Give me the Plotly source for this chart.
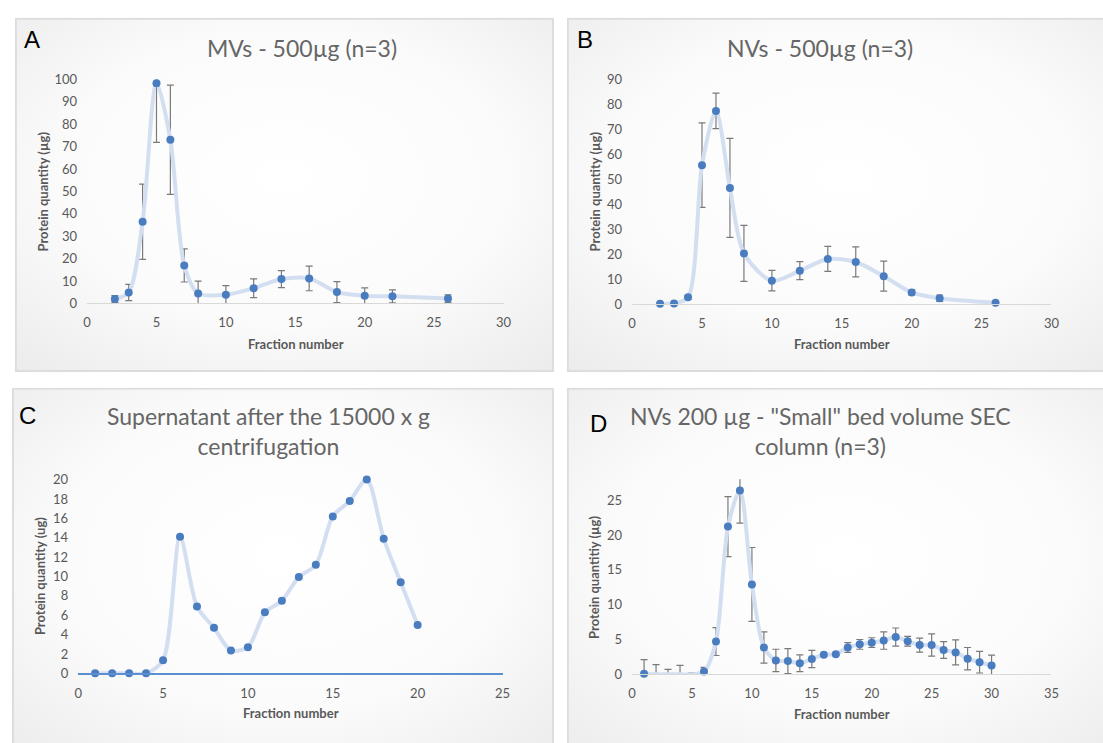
import base64
import plotly.graph_objects as go

W, H = 1103, 743

# ---------------- data ----------------
# Panel A: MVs - 500 µg (n=3)
a_x = [2, 3, 4, 5, 6, 7, 8, 10, 12, 14, 16, 18, 20, 22, 26]
a_y = [2.0, 4.9, 36.5, 98.3, 73.1, 17.0, 4.5, 3.9, 6.8, 10.9, 11.2, 5.1, 3.5, 3.2, 2.2]
a_err = [1.5, 3.6, 16.8, 26.4, 24.4, 7.4, 5.5, 4.1, 4.2, 3.8, 5.5, 4.7, 3.5, 2.9, 1.7]

# Panel B: NVs - 500 µg (n=3)
b_x = [2, 3, 4, 5, 6, 7, 8, 10, 12, 14, 16, 18, 20, 22, 26]
b_y = [0.3, 0.4, 2.9, 55.7, 77.4, 46.6, 20.4, 9.5, 13.5, 18.2, 17.0, 11.3, 4.8, 2.5, 0.7]
b_err = [0.2, 0.3, 0.8, 16.9, 7.1, 19.8, 11.2, 4.1, 3.6, 5.0, 6.0, 6.0, 1.0, 1.3, 0.4]

# Panel C: Supernatant after the 15000 x g centrifugation
c_x = list(range(1, 21))
c_y = [0, 0, 0, 0, 1.35, 14.1, 6.9, 4.7, 2.36, 2.7, 6.3, 7.5, 9.95, 11.2, 16.2, 17.8, 20.0, 13.9, 9.4, 5.0]

# Panel D: NVs 200 µg - "Small" bed volume SEC column (n=3)
d_x = list(range(1, 31))
d_y = [0.1, 0, 0, 0, 0, 0.4, 4.7, 21.2, 26.4, 12.9, 3.85, 2.0, 1.9, 1.6, 2.2,
       2.8, 2.9, 3.85, 4.3, 4.55, 4.85, 5.35, 4.75, 4.2, 4.2, 3.5, 3.15, 2.25, 1.74, 1.27]
d_err = [2.0, 1.4, 0.7, 1.3, 0.2, 0.6, 2.0, 4.3, 4.7, 5.3, 2.25, 1.6, 1.8, 1.2, 1.25,
         0.2, 0.2, 0.7, 0.7, 0.7, 1.25, 1.3, 0.7, 1.0, 1.6, 1.2, 1.8, 1.6, 1.55, 1.5]

titles = ["MVs - 500µg (n=3)", "NVs - 500µg (n=3)",
          "Supernatant after the 15000 x g<br>centrifugation",
          "NVs 200 µg - \"Small\" bed volume SEC<br>column (n=3)"]
letters = ["A", "B", "C", "D"]
y_titles = ["Protein quantity (µg)", "Protein quantity (µg)",
            "Protein quantity (ug)", "Protein quantitiy (µg)"]
x_title = "Fraction number"

# ---------------- style ----------------
MARKER = "#4a7dc0"
LINE = "#d3dff0"
ERR = "#7a7a7a"
GREY = "#595959"
TITLE_GREY = "#666666"
FONT = "Lato"


def fx(px):
    return px / W


def fy(py):
    return 1 - py / H


fig = go.Figure()

panels = [
    dict(x=a_x, y=a_y, err=a_err, ax="", dom_x=(84, 505), dom_y=(73, 302)),
    dict(x=b_x, y=b_y, err=b_err, ax="2", dom_x=(635, 1059), dom_y=(73, 303)),
    dict(x=c_x, y=c_y, err=None, ax="3", dom_x=(75, 504), dom_y=(482, 680)),
    dict(x=d_x, y=d_y, err=d_err, ax="4", dom_x=(635, 1059), dom_y=(481.6, 681)),
]

for p in panels:
    xa = "x" + p["ax"]
    ya = "y" + p["ax"]
    line_tr = dict(x=p["x"], y=p["y"], mode="lines", xaxis=xa, yaxis=ya,
                   line=dict(color=LINE, width=4, shape="spline", smoothing=0.8),
                   showlegend=False, hoverinfo="skip", cliponaxis=True)
    if p["err"] is not None:
        line_tr["error_y"] = dict(type="data", array=p["err"], visible=True,
                                  color=ERR, thickness=1.2, width=3.5)
    fig.add_trace(go.Scatter(**line_tr))
    opac = [0 if v == 0 and p["ax"] == "4" else 1 for v in p["y"]]
    fig.add_trace(go.Scatter(x=p["x"], y=p["y"], mode="markers", xaxis=xa, yaxis=ya,
                             marker=dict(color=MARKER, size=8, opacity=opac),
                             showlegend=False, cliponaxis=False))

axis_common = dict(showgrid=False, zeroline=False, ticks="",
                   tickfont=dict(family=FONT, size=13, color=GREY))

ranges = [
    ((0, 30), 5, (0, 100), 10),
    ((0, 30), 5, (0, 90), 10),
    ((0, 25), 5, (0, 20), 2),
    ((0, 35), 5, (0, 28), 5),
]

layout = dict(width=W, height=H, margin=dict(l=0, r=0, t=0, b=0),
              paper_bgcolor="white", plot_bgcolor="rgba(0,0,0,0)",
              font=dict(family=FONT, color=GREY), showlegend=False)

for i, p in enumerate(panels):
    xr, xd, yr, yd = ranges[i]
    suffix = p["ax"]
    xline = "#5b8fd0" if suffix == "3" else "#d9d9d9"
    xw = 1.5 if suffix == "3" else 1
    layout["xaxis" + suffix] = dict(axis_common, range=list(xr), dtick=xd, tick0=0,
                                    domain=[fx(p["dom_x"][0]), fx(p["dom_x"][1])],
                                    anchor="y" + suffix, showline=True,
                                    linecolor=xline, linewidth=xw,
                                    ticklabelstandoff=7)
    ydict = dict(axis_common, range=list(yr), dtick=yd, tick0=0,
                 domain=[fy(p["dom_y"][1]), fy(p["dom_y"][0])],
                 anchor="x" + suffix, showline=False, ticklabelstandoff=9)
    if suffix == "4":
        ydict["tickvals"] = [0, 5, 10, 15, 20, 25]
    layout["yaxis" + suffix] = ydict

fig.update_layout(**layout)


# ---------------- panel backgrounds ----------------
def bg_svg(w, h):
    svg = (f'<svg xmlns="http://www.w3.org/2000/svg" width="{w}" height="{h}" '
           f'viewBox="0 0 {w} {h}"><defs><radialGradient id="g" cx="50%" cy="45%" r="75%">'
           f'<stop offset="0" stop-color="#ffffff"/><stop offset="0.55" stop-color="#fbfbfb"/>'
           f'<stop offset="1" stop-color="#ebebeb"/></radialGradient></defs>'
           f'<rect x="1" y="1" width="{w-2}" height="{h-2}" fill="url(#g)" '
           f'stroke="#dcdcdc" stroke-width="2"/></svg>')
    return "data:image/svg+xml;base64," + base64.b64encode(svg.encode()).decode()


boxes = [(11, 10, 556, 372), (569, 10, 1130, 372), (8, 388, 556, 770), (569, 388, 1130, 770)]
images = []
for (x0, y0, x1, y1) in boxes:
    images.append(dict(source=bg_svg(x1 - x0, y1 - y0), xref="paper", yref="paper",
                       x=fx(x0), y=fy(y0), sizex=(x1 - x0) / W, sizey=(y1 - y0) / H,
                       xanchor="left", yanchor="top", sizing="stretch", layer="below"))
fig.update_layout(images=images)

# ---------------- text ----------------
ann = []
title_pos = [(301, 41), (825, 41), (267, 432), (825, 432)]
letter_pos = [(28, 32), (587, 32), (24, 416), (601, 425)]
ytitle_pos = [(39, 188), (597, 188), (37, 581), (597, 582)]
xtitle_pos = [(295, 343), (847, 343), (290, 721), (847, 722)]

for i in range(4):
    ann.append(dict(text=titles[i], x=fx(title_pos[i][0]), y=fy(title_pos[i][1]),
                    xref="paper", yref="paper", showarrow=False, xanchor="center",
                    yanchor="middle", font=dict(family=FONT, size=23, color=TITLE_GREY)))
    ann.append(dict(text=letters[i], x=fx(letter_pos[i][0]), y=fy(letter_pos[i][1]),
                    xref="paper", yref="paper", showarrow=False, xanchor="center",
                    yanchor="middle", font=dict(family="Liberation Sans", size=24, color="black")))
    ann.append(dict(text="<b>" + y_titles[i] + "</b>", x=fx(ytitle_pos[i][0]), y=fy(ytitle_pos[i][1]),
                    xref="paper", yref="paper", showarrow=False, xanchor="center",
                    yanchor="middle", textangle=-90, font=dict(family=FONT, size=13, color=GREY)))
    ann.append(dict(text="<b>" + x_title + "</b>", x=fx(xtitle_pos[i][0]), y=fy(xtitle_pos[i][1]),
                    xref="paper", yref="paper", showarrow=False, xanchor="center",
                    yanchor="middle", font=dict(family=FONT, size=13, color=GREY)))
fig.update_layout(annotations=ann)

fig.write_html("out.html", config={"displayModeBar": False},
               post_script="document.body.style.margin='0';document.body.style.overflow='hidden';")
